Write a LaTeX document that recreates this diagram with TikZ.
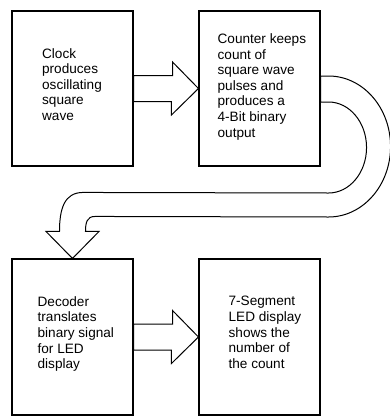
\documentclass[tikz,border=0pt]{standalone}
\usepackage{fontspec}
\setmainfont{Liberation Sans}
\usetikzlibrary{calc, positioning}

\begin{document}
\begin{tikzpicture}[x=1pt, y=-1pt,
  block/.style={draw, line width=1.1pt, minimum width=121pt, minimum height=155pt, inner sep=0pt},
  caption/.style={anchor=north west, inner sep=0pt, align=left, font=\fontsize{13.6}{15.6}\selectfont},
  fatarrow/.style={draw, line width=1pt, fill=white, line join=miter}
]
\useasboundingbox (0,0) rectangle (390,416);

% the four stages
\node[block] (clock) at (72.5,88.5) {};
\node[block] (counter) at (259.5,88.5) {};
\node[block, minimum height=156pt] (decoder) at (72.5,337) {};
\node[block, minimum height=156pt] (display) at (259.5,337) {};

\node[caption] (clocktext) at ($(clock.north west)+(30.5,37.5)$) {Clock\\produces\\oscillating\\square\\wave};
\node[caption] (countertext) at ($(counter.north west)+(19,23)$) {Counter keeps\\count of\\square wave\\pulses and\\produces a\\4-Bit binary\\output};
\node[caption] (decodertext) at ($(decoder.north west)+(26,37.7)$) {Decoder\\translates\\binary signal\\for LED\\display};
\node[caption] (displaytext) at ($(display.north west)+(30,37.7)$) {7-Segment\\LED display\\shows the\\number of\\the count};

% block arrows
\draw[fatarrow] ($(clock.east)+(0,-13)$) -- ++(39,0) -- ++(0,-13.5) -- (counter.west)
  -- ++(-27,26.5) -- ++(0,-13.5) -- ($(clock.east)+(0,13)$) -- cycle;
\draw[fatarrow] ($(decoder.east)+(0,-13)$) -- ++(39,0) -- ++(0,-13.5) -- (display.west)
  -- ++(-27,26.5) -- ++(0,-13.5) -- ($(decoder.east)+(0,13)$) -- cycle;

% u-turn from the counter down to the decoder
\draw[fatarrow] ($(counter.east)+(0,-12.5)$) -- ++(8,0)
  arc[start angle=90, end angle=-90, x radius=62pt, y radius=70.5pt]
  -- ($(decoder.north)+(22.5,-42)$)
  .. controls ($(decoder.north)+(14.5,-42)$) and ($(decoder.north)+(13,-36)$) .. ($(decoder.north)+(13,-27)$)
  -- ($(decoder.north)+(26.5,-27)$) -- (decoder.north) -- ($(decoder.north)+(-26.5,-27)$)
  -- ($(decoder.north)+(-13,-27)$)
  .. controls ($(decoder.north)+(-13,-50)$) and ($(decoder.north)+(-8,-66)$) .. ($(decoder.north)+(10.5,-66)$)
  -- ($(counter.east)+(8,104.5)$)
  arc[start angle=-90, end angle=90, x radius=38pt, y radius=45.5pt]
  -- ($(counter.east)+(0,13.5)$) -- cycle;
\end{tikzpicture}
\end{document}
